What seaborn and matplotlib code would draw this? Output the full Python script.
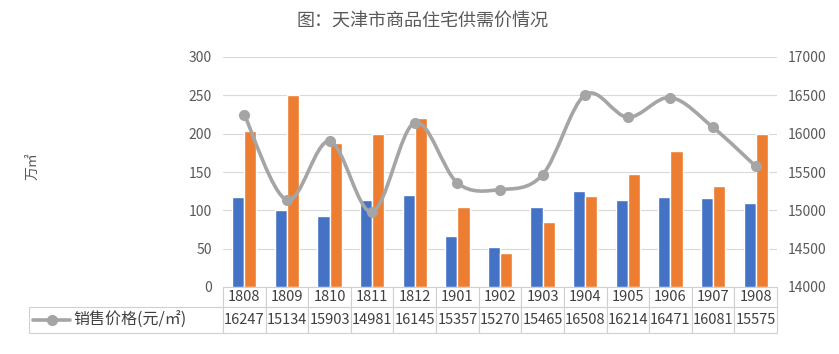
import numpy as np
import pandas as pd
import matplotlib
matplotlib.use("Agg")
import matplotlib.pyplot as plt
import seaborn as sns
from matplotlib.path import Path
from matplotlib.patches import PathPatch

months = ["1808", "1809", "1810", "1811", "1812", "1901", "1902",
          "1903", "1904", "1905", "1906", "1907", "1908"]
supply = [118, 100, 93, 114, 120, 66, 52, 105, 125, 113, 117, 116, 110]
sales = [204, 250, 188, 200, 220, 104, 44, 85, 119, 148, 177, 132, 200]
price = [16247, 15134, 15903, 14981, 16145, 15357, 15270,
         15465, 16508, 16214, 16471, 16081, 15575]
price_label = "销售价格(元/㎡)"

blue = "#4472C4"
orange = "#ED7D31"
gray = "#A5A5A5"
text_col = "#595959"

sns.set_theme(style="white")
plt.rcParams["font.family"] = ["Noto Sans CJK SC", "DejaVu Sans"]

df = pd.DataFrame({
    "month": months * 2,
    "series": ["供应面积"] * len(months) + ["成交面积"] * len(months),
    "value": supply + sales,
})

fig = plt.figure(figsize=(8.39, 3.54), dpi=100)
ax = fig.add_axes([223 / 839, 1 - 287 / 354, 554 / 839, 230 / 354])

sns.barplot(data=df, x="month", y="value", hue="series", order=months,
            palette=[blue, orange], width=0.57, gap=0, saturation=1,
            legend=False, ax=ax)
ax.set_xlim(-0.5, len(months) - 0.5)
ax.set_ylim(0, 300)
ax.set_yticks(range(0, 301, 50))
ax.set_xlabel("")
ax.set_ylabel("")
ax.set_xticks([])
ax.grid(axis="y", color="#D9D9D9", linewidth=0.8)
ax.set_axisbelow(True)
for s in ax.spines.values():
    s.set_visible(False)
ax.tick_params(axis="y", length=0, labelsize=10, labelcolor=text_col, pad=8)

# price line on secondary axis, smoothed like Excel
ax2 = ax.twinx()
ax2.set_ylim(14000, 17000)
ax2.set_yticks(range(14000, 17001, 500))
for s in ax2.spines.values():
    s.set_visible(False)
ax2.tick_params(axis="y", length=0, labelsize=10, labelcolor=text_col, pad=8)

x = np.arange(len(months), dtype=float)
y = np.array(price, dtype=float)
pts = np.column_stack([x, y])
ext = np.vstack([pts[0], pts, pts[-1]])
verts = [pts[0]]
codes = [Path.MOVETO]
for i in range(len(pts) - 1):
    c1 = ext[i + 1] + (ext[i + 2] - ext[i]) / 6
    c2 = ext[i + 2] - (ext[i + 3] - ext[i + 1]) / 6
    verts += [c1, c2, pts[i + 1]]
    codes += [Path.CURVE4] * 3
patch = PathPatch(Path(verts, codes), facecolor="none", edgecolor=gray,
                  linewidth=2.6, capstyle="round", joinstyle="round",
                  transform=ax2.transData, zorder=3)
ax2.add_patch(patch)
ax2.plot(x, y, linestyle="none", marker="o", markersize=7,
         color=gray, zorder=4)

# data table under the chart
label_w = 194 / 554
col_w = 1 / len(months)
tab = ax.table(cellText=[[""] + [str(p) for p in price]],
               colLabels=[""] + months,
               colWidths=[label_w] + [col_w] * len(months),
               cellLoc="center",
               bbox=[-label_w, -46 / 230, 1 + label_w, 46 / 230])
tab.auto_set_font_size(False)
tab.set_fontsize(10.5)
heights = {0: 20 / 230, 1: 26 / 230}
for (r, c), cell in tab.get_celld().items():
    cell.set_height(heights[r])
    cell.set_edgecolor("#D0D0D0")
    cell.set_linewidth(0.8)
    cell.get_text().set_color("#404040")
    cell.PAD = 0.01
tab[0, 0].visible_edges = "open"

# legend key inside the table header cell
row_y = -(320 - 287) / 230
ax.plot([(33 - 223) / 554, (70 - 223) / 554], [row_y, row_y],
        color=gray, linewidth=2.6, transform=ax.transAxes, clip_on=False)
ax.plot([(52 - 223) / 554], [row_y], marker="o", markersize=7, color=gray,
        transform=ax.transAxes, clip_on=False)
ax.text((73 - 223) / 554, row_y, price_label, transform=ax.transAxes,
        ha="left", va="center", fontsize=11.5, color="#404040")

fig.text(32 / 839, 1 - 166 / 354, "万㎡", rotation=90, ha="center",
         va="center", fontsize=10, color=text_col)
fig.text(422 / 839, 1 - 22 / 354, "图：天津市商品住宅供需价情况",
         ha="center", va="center", fontsize=13, color=text_col)

fig.savefig("out.png", dpi=100)
